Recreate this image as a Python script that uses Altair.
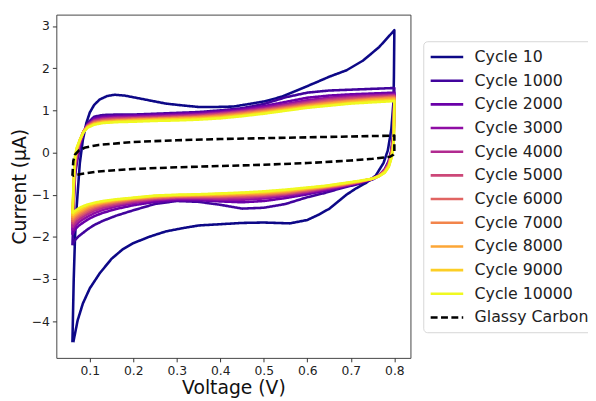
import altair as alt
import pandas as pd

SERIES = ["Cycle 10", "Cycle 1000", "Cycle 2000", "Cycle 3000", "Cycle 4000",
          "Cycle 5000", "Cycle 6000", "Cycle 7000", "Cycle 8000", "Cycle 9000",
          "Cycle 10000", "Glassy Carbon"]
COLORS = ["#0d0887", "#41049d", "#6a00a8", "#8f0da4", "#b12a90", "#cc4778",
          "#e16462", "#f2844b", "#fca636", "#fcce25", "#f0f921", "#000000"]
DASHES = [[1, 0]] * 11 + [[7, 3.5]]

X_TICKS = [0.1, 0.2, 0.3, 0.4, 0.5, 0.6, 0.7, 0.8]
Y_TICKS = [-4, -3, -2, -1, 0, 1, 2, 3]

# Cycle 10 (own voltage grid)
C10_V_UP = [0.060, 0.063, 0.066, 0.070, 0.077, 0.084, 0.092, 0.100, 0.110, 0.123, 0.140,
            0.157, 0.180, 0.200, 0.240, 0.275, 0.310, 0.350, 0.390, 0.430, 0.460, 0.500,
            0.540, 0.576, 0.615, 0.651, 0.690, 0.728, 0.765, 0.800]
C10_I_UP = [-4.50, -3.00, -2.00, -1.25, -0.25, 0.30, 0.70, 0.95, 1.13, 1.26, 1.34,
            1.37, 1.35, 1.31, 1.23, 1.16, 1.12, 1.08, 1.08, 1.09, 1.14, 1.21,
            1.32, 1.47, 1.64, 1.80, 1.95, 2.18, 2.50, 2.90]
C10_V_DN = [0.800, 0.799, 0.798, 0.793, 0.785, 0.775, 0.757, 0.735, 0.712, 0.690, 0.670,
            0.651, 0.625, 0.600, 0.560, 0.530, 0.500, 0.450, 0.400, 0.350, 0.310, 0.275,
            0.236, 0.200, 0.175, 0.150, 0.123, 0.100, 0.084, 0.072, 0.062]
C10_I_DN = [2.90, 1.80, 1.20, 0.55, 0.05, -0.25, -0.55, -0.72, -0.85, -1.00, -1.17,
            -1.33, -1.48, -1.60, -1.68, -1.67, -1.66, -1.67, -1.70, -1.73, -1.80, -1.87,
            -2.00, -2.15, -2.30, -2.52, -2.86, -3.22, -3.58, -3.98, -4.50]

# Shared voltage grid for cycles 1000 - 10000
V_UP = [0.060, 0.062, 0.064, 0.066, 0.070, 0.077, 0.085, 0.095, 0.110, 0.130, 0.160, 0.200,
        0.250, 0.300, 0.350, 0.400, 0.450, 0.500, 0.550, 0.600, 0.650, 0.700, 0.750, 0.800]
V_DN = [0.800, 0.799, 0.797, 0.793, 0.787, 0.778, 0.765, 0.750, 0.720, 0.680, 0.640, 0.600,
        0.550, 0.500, 0.450, 0.400, 0.350, 0.300, 0.250, 0.200, 0.160, 0.130, 0.110, 0.095,
        0.085, 0.075, 0.068, 0.063, 0.060]

C1000_UP = [-2.20, -1.60, -1.00, -0.55, -0.25, 0.12, 0.45, 0.70, 0.85, 0.89, 0.90, 0.90,
            0.92, 0.94, 0.96, 1.00, 1.05, 1.15, 1.31, 1.42, 1.47, 1.49, 1.51, 1.53]
C2000_UP = [-1.95, -1.40, -0.85, -0.45, -0.18, 0.17, 0.46, 0.67, 0.81, 0.85, 0.87, 0.88,
            0.90, 0.92, 0.94, 0.98, 1.03, 1.10, 1.20, 1.30, 1.35, 1.38, 1.40, 1.42]
C3000_UP = [-1.85, -1.30, -0.78, -0.40, -0.10, 0.22, 0.48, 0.66, 0.78, 0.82, 0.84, 0.85,
            0.87, 0.89, 0.91, 0.95, 1.00, 1.07, 1.15, 1.24, 1.30, 1.34, 1.36, 1.38]
C4000_UP = [-1.78, -1.25, -0.72, -0.35, -0.05, 0.25, 0.49, 0.65, 0.76, 0.80, 0.82, 0.83,
            0.85, 0.87, 0.89, 0.93, 0.98, 1.04, 1.12, 1.20, 1.27, 1.31, 1.34, 1.36]
C5000_UP = [-1.70, -1.18, -0.66, -0.30, -0.01, 0.27, 0.49, 0.64, 0.74, 0.78, 0.80, 0.81,
            0.83, 0.85, 0.87, 0.91, 0.96, 1.02, 1.09, 1.17, 1.24, 1.28, 1.31, 1.34]
C6000_UP = [-1.65, -1.12, -0.60, -0.25, 0.03, 0.28, 0.49, 0.63, 0.72, 0.76, 0.78, 0.80,
            0.81, 0.83, 0.85, 0.89, 0.94, 1.00, 1.07, 1.14, 1.21, 1.25, 1.29, 1.32]
C7000_UP = [-1.60, -1.07, -0.55, -0.20, 0.06, 0.29, 0.49, 0.62, 0.70, 0.74, 0.76, 0.78,
            0.80, 0.82, 0.84, 0.87, 0.92, 0.98, 1.05, 1.12, 1.18, 1.23, 1.27, 1.30]
C8000_UP = [-1.55, -1.02, -0.50, -0.16, 0.08, 0.29, 0.48, 0.61, 0.69, 0.73, 0.75, 0.77,
            0.79, 0.80, 0.82, 0.85, 0.90, 0.96, 1.03, 1.10, 1.16, 1.21, 1.25, 1.28]
C9000_UP = [-1.50, -0.96, -0.45, -0.12, 0.10, 0.30, 0.48, 0.60, 0.67, 0.71, 0.73, 0.75,
            0.77, 0.79, 0.80, 0.83, 0.88, 0.94, 1.01, 1.08, 1.13, 1.18, 1.22, 1.25]
C10000_UP = [-1.45, -0.90, -0.40, -0.08, 0.12, 0.30, 0.47, 0.59, 0.66, 0.70, 0.72, 0.73,
             0.75, 0.76, 0.78, 0.81, 0.86, 0.92, 0.99, 1.06, 1.11, 1.16, 1.19, 1.22]

C1000_DN = [1.53, 0.90, 0.40, 0.05, -0.20, -0.40, -0.55, -0.64, -0.74, -0.84, -0.96, -1.06,
            -1.22, -1.31, -1.33, -1.24, -1.17, -1.15, -1.22, -1.37, -1.50, -1.62, -1.72, -1.82,
            -1.90, -1.98, -2.05, -2.12, -2.20]
C2000_DN = [1.42, 0.80, 0.35, 0.02, -0.22, -0.40, -0.54, -0.62, -0.72, -0.82, -0.91, -0.99,
            -1.08, -1.15, -1.18, -1.16, -1.13, -1.13, -1.17, -1.25, -1.34, -1.43, -1.51, -1.59,
            -1.66, -1.73, -1.80, -1.88, -1.95]
C3000_DN = [1.38, 0.75, 0.32, 0.00, -0.24, -0.41, -0.54, -0.62, -0.71, -0.80, -0.88, -0.95,
            -1.03, -1.09, -1.12, -1.12, -1.10, -1.10, -1.13, -1.20, -1.28, -1.36, -1.44, -1.52,
            -1.58, -1.65, -1.72, -1.79, -1.85]
C4000_DN = [1.36, 0.70, 0.28, -0.02, -0.26, -0.42, -0.54, -0.62, -0.70, -0.79, -0.86, -0.93,
            -1.00, -1.05, -1.08, -1.09, -1.08, -1.08, -1.11, -1.17, -1.24, -1.31, -1.38, -1.46,
            -1.52, -1.59, -1.66, -1.72, -1.78]
C5000_DN = [1.34, 0.65, 0.25, -0.04, -0.28, -0.43, -0.55, -0.62, -0.70, -0.78, -0.84, -0.91,
            -0.98, -1.02, -1.05, -1.06, -1.06, -1.06, -1.09, -1.14, -1.21, -1.27, -1.34, -1.41,
            -1.47, -1.53, -1.59, -1.65, -1.70]
C6000_DN = [1.32, 0.60, 0.22, -0.06, -0.30, -0.44, -0.55, -0.62, -0.69, -0.77, -0.83, -0.89,
            -0.96, -1.00, -1.02, -1.04, -1.04, -1.05, -1.07, -1.12, -1.18, -1.24, -1.30, -1.37,
            -1.43, -1.49, -1.55, -1.60, -1.65]
C7000_DN = [1.30, 0.55, 0.18, -0.08, -0.31, -0.45, -0.55, -0.62, -0.69, -0.76, -0.82, -0.87,
            -0.94, -0.98, -1.00, -1.02, -1.02, -1.03, -1.06, -1.10, -1.16, -1.21, -1.27, -1.33,
            -1.39, -1.45, -1.50, -1.55, -1.60]
C8000_DN = [1.28, 0.50, 0.14, -0.10, -0.32, -0.46, -0.56, -0.62, -0.68, -0.75, -0.81, -0.86,
            -0.92, -0.96, -0.98, -1.00, -1.01, -1.02, -1.04, -1.09, -1.14, -1.19, -1.24, -1.29,
            -1.35, -1.41, -1.46, -1.51, -1.55]
C9000_DN = [1.25, 0.45, 0.10, -0.13, -0.33, -0.47, -0.56, -0.62, -0.68, -0.74, -0.80, -0.84,
            -0.90, -0.94, -0.96, -0.98, -1.00, -1.01, -1.03, -1.08, -1.12, -1.17, -1.21, -1.26,
            -1.31, -1.37, -1.42, -1.46, -1.50]
C10000_DN = [1.22, 0.40, 0.05, -0.15, -0.35, -0.48, -0.56, -0.62, -0.67, -0.73, -0.79, -0.83,
             -0.88, -0.92, -0.95, -0.97, -0.99, -1.00, -1.02, -1.07, -1.11, -1.15, -1.19, -1.23,
             -1.27, -1.32, -1.37, -1.41, -1.45]

# Glassy carbon (closed loop)
GC_V = [0.060, 0.062, 0.066, 0.075, 0.090, 0.120, 0.200, 0.300, 0.400, 0.500, 0.600, 0.700,
        0.800, 0.800, 0.798, 0.790, 0.750, 0.700, 0.600, 0.500, 0.400, 0.300, 0.200, 0.120,
        0.080, 0.065, 0.060]
GC_I = [-0.55, -0.20, -0.05, 0.05, 0.12, 0.18, 0.25, 0.29, 0.32, 0.34, 0.36, 0.38,
        0.40, 0.00, -0.05, -0.10, -0.15, -0.19, -0.25, -0.29, -0.32, -0.35, -0.39, -0.45,
        -0.51, -0.54, -0.55]

CLUSTER = [
    ("Cycle 1000", C1000_UP, C1000_DN), ("Cycle 2000", C2000_UP, C2000_DN),
    ("Cycle 3000", C3000_UP, C3000_DN), ("Cycle 4000", C4000_UP, C4000_DN),
    ("Cycle 5000", C5000_UP, C5000_DN), ("Cycle 6000", C6000_UP, C6000_DN),
    ("Cycle 7000", C7000_UP, C7000_DN), ("Cycle 8000", C8000_UP, C8000_DN),
    ("Cycle 9000", C9000_UP, C9000_DN), ("Cycle 10000", C10000_UP, C10000_DN),
]

rows = []
def add(name, vs, cs):
    for k, (v, c) in enumerate(zip(vs, cs)):
        rows.append({"series": name, "v": v, "i": c, "k": k})

add("Cycle 10", C10_V_UP + C10_V_DN, C10_I_UP + C10_I_DN)
for name, up, dn in CLUSTER:
    add(name, V_UP + V_DN, up + dn)
add("Glassy Carbon", GC_V, GC_I)
df = pd.DataFrame(rows)

FONT = "DejaVu Sans"
minus = "replace(datum.label, '-', '\u2212')"

legend = alt.Legend(title=None, orient="none", legendX=372, legendY=27,
                    symbolType="M-2.2,0H2.2", symbolSize=225, symbolStrokeWidth=2.6,
                    symbolOffset=8,
                    labelFontSize=16, labelFont=FONT, labelColor="#222",
                    labelOffset=19, rowPadding=7, padding=7,
                    strokeColor="#d6d6d6", fillColor="white", cornerRadius=4,
                    labelLimit=300)

base = alt.Chart(df).mark_line(strokeWidth=2.6, strokeJoin="round", strokeCap="butt").encode(
    x=alt.X("v:Q", scale=alt.Scale(domain=[0.023, 0.837], nice=False, zero=False),
            axis=alt.Axis(values=X_TICKS, format=".1f", title="Voltage (V)", labelExpr=minus)),
    y=alt.Y("i:Q", scale=alt.Scale(domain=[-4.87, 3.27], nice=False, zero=False),
            axis=alt.Axis(values=Y_TICKS, format="d", title="Current (\u03bcA)", labelExpr=minus)),
    color=alt.Color("series:N", scale=alt.Scale(domain=SERIES, range=COLORS), legend=legend),
    strokeDash=alt.StrokeDash("series:N", scale=alt.Scale(domain=SERIES, range=DASHES), legend=legend),
    order=alt.Order("k:Q"),
)

layers = [base.transform_filter(alt.datum.series == s) for s in SERIES]

chart = alt.layer(*layers).properties(
    width=359, height=348,
    autosize=alt.AutoSizeParams(type="none"),
    padding={"left": 49, "top": 4, "right": 180, "bottom": 41},
).configure_view(
    stroke="#444", strokeWidth=1
).configure_axis(
    grid=False, domain=False, ticks=True, tickSize=4, tickColor="#333", tickWidth=1,
    labelFont=FONT, labelFontSize=12.5, labelColor="#222", labelPadding=3,
    titleFont=FONT, titleFontSize=19, titleFontWeight="normal", titleColor="#111",
).configure_axisX(titlePadding=2).configure_axisY(titlePadding=2)

chart.save("out.html", embed_options={"renderer": "svg", "actions": False})
